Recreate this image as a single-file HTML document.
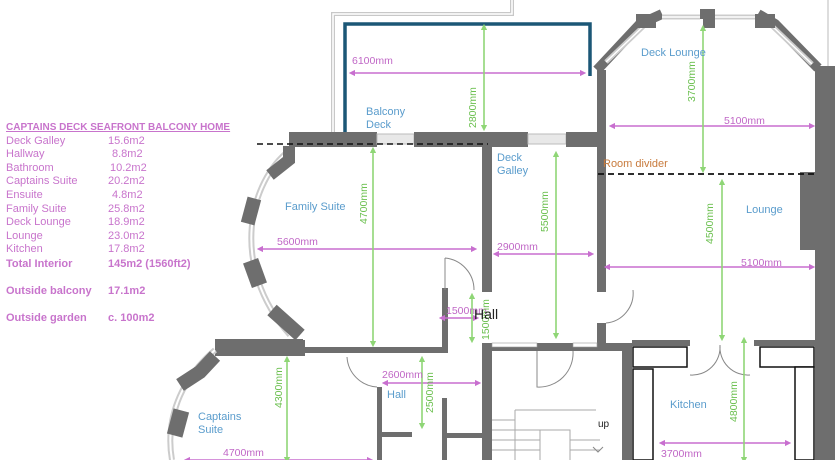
<!DOCTYPE html>
<html><head><meta charset="utf-8"><style>
body{margin:0;background:#fff;width:840px;height:460px;overflow:hidden}
svg{display:block}
.t{font-family:"Liberation Sans",sans-serif;font-size:11px;fill:#c874cc}
.b{font-weight:bold}
.r{font-family:"Liberation Sans",sans-serif;font-size:11px;fill:#5a9ccc}
.d{font-family:"Liberation Sans",sans-serif;font-size:10.5px;fill:#c067c6}
.g{font-family:"Liberation Sans",sans-serif;font-size:10.5px;fill:#6cc050}
.w{fill:#6e6e6e}
.pk{stroke:#c86fcf;stroke-width:1.6;marker-start:url(#ap);marker-end:url(#ap)}
.gr{stroke:#8fd676;stroke-width:1.6;marker-start:url(#ag);marker-end:url(#ag)}
</style></head><body>
<svg width="840" height="460" viewBox="0 0 840 460" xmlns="http://www.w3.org/2000/svg">
<defs>
<marker id="ap" viewBox="0 0 10 10" refX="5" refY="5" markerWidth="4" markerHeight="4" orient="auto-start-reverse"><path d="M0 0 L10 5 L0 10z" fill="#c86fcf"/></marker>
<marker id="ag" viewBox="0 0 10 10" refX="5" refY="5" markerWidth="4" markerHeight="4" orient="auto-start-reverse"><path d="M0 0 L10 5 L0 10z" fill="#8fd676"/></marker>
</defs>
<!-- left text -->
<text class="t b" x="6" y="130" font-size="10" style="font-size:10px" text-decoration="underline">CAPTAINS DECK SEAFRONT BALCONY HOME</text>
<g class="t">
<text x="6" y="144">Deck Galley</text><text x="108" y="144">15.6m2</text>
<text x="6" y="157">Hallway</text><text x="112" y="157">8.8m2</text>
<text x="6" y="171">Bathroom</text><text x="110" y="171">10.2m2</text>
<text x="6" y="184">Captains Suite</text><text x="108" y="184">20.2m2</text>
<text x="6" y="198">Ensuite</text><text x="112" y="198">4.8m2</text>
<text x="6" y="212">Family Suite</text><text x="108" y="212">25.8m2</text>
<text x="6" y="225">Deck Lounge</text><text x="108" y="225">18.9m2</text>
<text x="6" y="239">Lounge</text><text x="108" y="239">23.0m2</text>
<text x="6" y="252">Kitchen</text><text x="108" y="252">17.8m2</text>
<text class="b" x="6" y="267">Total Interior</text><text class="b" x="108" y="267">145m2 (1560ft2)</text>
<text class="b" x="6" y="294">Outside balcony</text><text class="b" x="108" y="294">17.1m2</text>
<text class="b" x="6" y="321">Outside garden</text><text class="b" x="108" y="321">c. 100m2</text>
</g>
<!-- outer garden lines -->
<path d="M333 134 V14 H512 V0" fill="none" stroke="#c8c8c8" stroke-width="4"/>
<path d="M333 134 V14 H512 V0" fill="none" stroke="#fff" stroke-width="1.5"/>
<path d="M828 0 V68" stroke="#bbb" stroke-width="1"/>
<!-- balcony -->
<path d="M345 134 V24 H590 V76" fill="none" stroke="#1b5776" stroke-width="3.5"/>
<!-- top wall band -->
<rect class="w" x="289" y="132" width="88" height="15"/>
<rect x="377" y="134" width="37" height="10" fill="#e8e8e8" stroke="#bbb"/>
<rect class="w" x="414" y="132" width="114" height="15"/>
<rect x="528" y="134" width="38" height="10" fill="#e8e8e8" stroke="#bbb"/>
<rect class="w" x="566" y="132" width="40" height="15"/>
<!-- galley walls -->
<rect class="w" x="482" y="146" width="10" height="146"/>
<rect class="w" x="482" y="343" width="10" height="117"/>
<rect class="w" x="597" y="70" width="9" height="222"/>
<rect class="w" x="597" y="323" width="9" height="27"/>
<rect class="w" x="492" y="343" width="140" height="8"/>
<rect x="492" y="343" width="45" height="4" fill="#fff" stroke="#999" stroke-width=".6"/>
<rect x="573" y="343" width="24" height="4" fill="#fff" stroke="#999" stroke-width=".6"/>
<!-- deck lounge bay -->
<path d="M597 70 L640 24 L662 14 M700 14 H715 M758 14 L775 24 L818 68" fill="none" stroke="#6e6e6e" stroke-width="10"/>
<path d="M606 62 L650 20 M662 17 H700 M715 17 H758 M770 24 L812 64" stroke="#ccc" stroke-width="5"/>
<path d="M606 62 L650 20 M662 17 H700 M715 17 H758 M770 24 L812 64" stroke="#fff" stroke-width="1.5"/>
<rect class="w" x="636" y="14" width="20" height="14"/>
<rect class="w" x="703" y="13" width="12" height="15"/>
<rect class="w" x="755" y="14" width="20" height="14"/>
<rect class="w" x="815" y="66" width="20" height="394"/>
<rect class="w" x="800" y="172" width="16" height="78"/>
<!-- family suite bay -->
<path d="M290 150 C250 180 228 265 290 335" fill="none" stroke="#ccc" stroke-width="6"/>
<path d="M290 150 C250 180 228 265 290 335" fill="none" stroke="#fff" stroke-width="2"/>
<path d="M289 146 V160 L270 175" fill="none" stroke="#6e6e6e" stroke-width="12"/>
<rect class="w" x="244" y="198" width="14" height="26" transform="rotate(15 251 211)"/>
<rect class="w" x="247" y="260" width="16" height="26" transform="rotate(-20 255 273)"/>
<path d="M272 310 L300 335" stroke="#6e6e6e" stroke-width="14"/>
<path d="M215 342 H300 V350 H445 V288" fill="none" stroke="#6e6e6e" stroke-width="6"/>
<rect class="w" x="215" y="340" width="90" height="16"/>
<!-- captains suite bay -->
<path d="M215 350 C180 380 165 420 172 460" fill="none" stroke="#ccc" stroke-width="6"/>
<path d="M215 350 C180 380 165 420 172 460" fill="none" stroke="#fff" stroke-width="2"/>
<path d="M215 356 L200 372 L180 385" stroke="#6e6e6e" stroke-width="14"/>
<rect class="w" x="170" y="410" width="16" height="26" transform="rotate(15 178 423)"/>
<!-- hall walls -->
<rect class="w" x="377" y="387" width="5" height="73"/>
<rect class="w" x="382" y="432" width="30" height="5"/>
<rect class="w" x="442" y="398" width="5" height="62"/>
<rect class="w" x="447" y="433" width="35" height="5"/>
<!-- doors -->
<path d="M445 258 A32 32 0 0 1 474 290 M445 258 V290" fill="none" stroke="#888" stroke-width="1"/>
<path d="M347 357 A32 32 0 0 0 377 387" fill="none" stroke="#888" stroke-width="1"/>
<path d="M537 351 V387 A34 34 0 0 0 573 351" fill="none" stroke="#888" stroke-width="1"/>
<path d="M606 323 A30 30 0 0 0 633 290" fill="none" stroke="#888" stroke-width="1"/>
<path d="M690 375 A28 28 0 0 0 720 345 A28 28 0 0 0 750 375" fill="none" stroke="#888" stroke-width="1"/>
<!-- kitchen -->
<rect class="w" x="622" y="343" width="10" height="117"/>
<rect class="w" x="632" y="340" width="58" height="6"/>
<rect class="w" x="754" y="340" width="62" height="6"/>
<rect x="633" y="347" width="54" height="20" fill="#fff" stroke="#111" stroke-width="1.5"/>
<rect x="633" y="369" width="20" height="91" fill="#fff" stroke="#111" stroke-width="1.5"/>
<rect x="760" y="347" width="54" height="20" fill="#fff" stroke="#111" stroke-width="1.5"/>
<rect x="795" y="367" width="19" height="93" fill="#fff" stroke="#111" stroke-width="1.5"/>
<!-- stairs -->
<path d="M515 410 H596 M540 430 H570 V460 M540 430 V460 M492 420 H515 M492 430 H540 M492 440 H540 M492 450 H540 M570 440 H600 M570 450 H600 M515 410 V460" fill="none" stroke="#aaa" stroke-width="1"/>
<text x="598" y="427" font-family="Liberation Sans,sans-serif" font-size="10" fill="#222">up</text>
<path d="M593 447 L598 452 L603 447" fill="none" stroke="#888"/>
<!-- dashed lines -->
<path d="M257 144 H488" stroke="#111" stroke-width="1.5" stroke-dasharray="6 4"/>
<path d="M598 174 H818" stroke="#111" stroke-width="1.8" stroke-dasharray="6 4"/>
<!-- pink dims -->
<g class="pk">
<path d="M352 73 H583"/><path d="M612 126 H812"/><path d="M260 249 H474"/><path d="M496 254 H591"/>
<path d="M607 267 H812"/><path d="M442 318 H476"/><path d="M385 383 H478"/><path d="M662 443 H788"/><path d="M187 460 H370"/>
</g>
<g class="gr">
<path d="M484 27 V128"/><path d="M703 28 V170"/><path d="M373 150 V344"/><path d="M556 154 V336"/>
<path d="M722 182 V338"/><path d="M472 296 V340"/><path d="M422 359 V426"/><path d="M287 359 V460"/><path d="M744 340 V460"/>
</g>
<!-- labels -->
<g class="d">
<text x="352" y="64">6100mm</text><text x="724" y="124">5100mm</text><text x="277" y="245">5600mm</text>
<text x="497" y="250">2900mm</text><text x="741" y="266">5100mm</text><text x="446" y="314">1500mm</text>
<text x="382" y="378">2600mm</text><text x="661" y="457">3700mm</text><text x="223" y="456">4700mm</text>
</g>
<g class="g">
<text transform="translate(476 128) rotate(-90)">2800mm</text>
<text transform="translate(695 102) rotate(-90)">3700mm</text>
<text transform="translate(367 224) rotate(-90)">4700mm</text>
<text transform="translate(548 232) rotate(-90)">5500mm</text>
<text transform="translate(713 244) rotate(-90)">4500mm</text>
<text transform="translate(489 340) rotate(-90)">1500mm</text>
<text transform="translate(282 408) rotate(-90)">4300mm</text>
<text transform="translate(433 413) rotate(-90)">2500mm</text>
<text transform="translate(737 422) rotate(-90)">4800mm</text>
</g>
<g class="r">
<text x="366" y="115">Balcony</text><text x="366" y="128">Deck</text>
<text x="497" y="161">Deck</text><text x="497" y="174">Galley</text>
<text x="641" y="56">Deck Lounge</text><text x="746" y="213">Lounge</text>
<text x="285" y="210">Family Suite</text><text x="387" y="398">Hall</text>
<text x="198" y="420">Captains</text><text x="198" y="433">Suite</text>
<text x="670" y="408">Kitchen</text>
</g>
<text x="603" y="167" font-family="Liberation Sans,sans-serif" font-size="11" fill="#c87a3c">Room divider</text>
<text x="474" y="319" font-family="Liberation Sans,sans-serif" font-size="14" fill="#222">Hall</text>
</svg>
</body></html>
